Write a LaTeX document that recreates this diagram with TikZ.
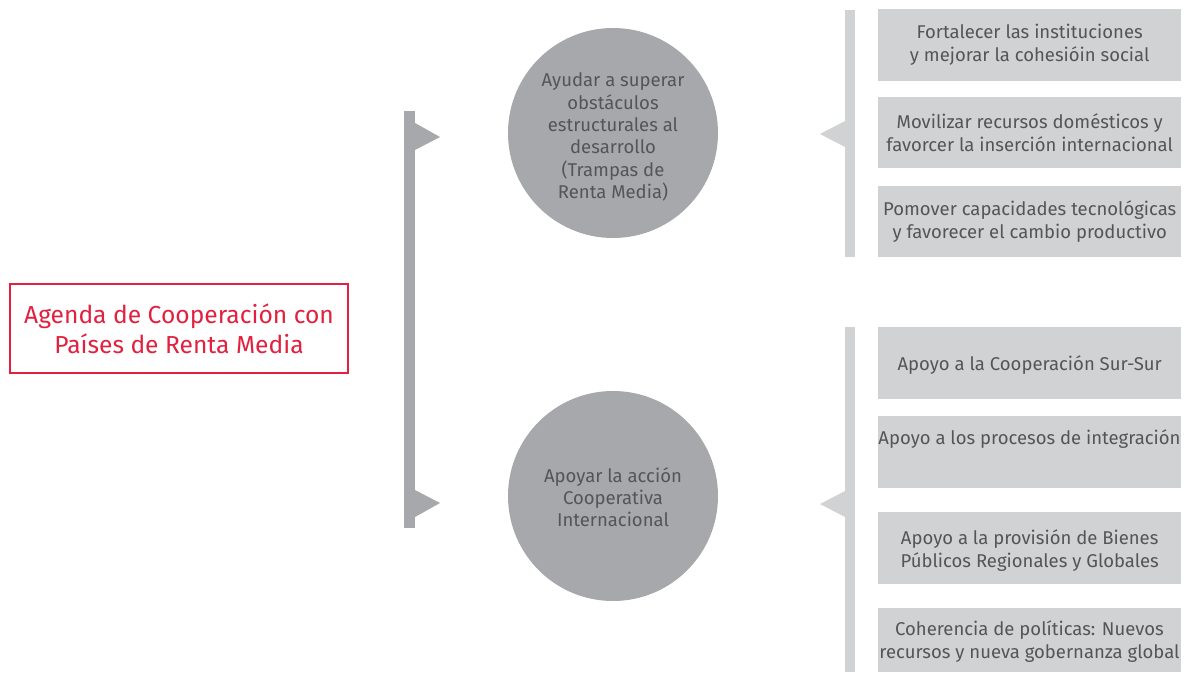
\documentclass[tikz,border=0pt]{standalone}
\usepackage{fontspec}
\setmainfont{Fira Sans}
\definecolor{dgrey}{HTML}{A7A8AB}
\definecolor{lgrey}{HTML}{D1D2D4}
\definecolor{tgrey}{HTML}{545557}
\definecolor{cred}{HTML}{E2203F}
\tikzset{
  rbox/.style={fill=lgrey, draw=none, inner sep=0pt, anchor=north west},
  btext/.style={text=tgrey, align=center, font=\fontsize{18.5}{23}\selectfont, inner sep=0pt},
  circ/.style={circle, fill=dgrey, draw=none, minimum size=210pt, inner sep=0pt},
  ctext/.style={text=tgrey, align=center, font=\fontsize{18.5}{22.3}\selectfont, inner sep=0pt},
}
\begin{document}
\begin{tikzpicture}[x=1pt,y=-1pt]
\useasboundingbox (0,0) rectangle (1194,672);
% red title box
\node[draw=cred, line width=2pt, minimum width=338pt, minimum height=89pt, anchor=north west, inner sep=0pt] (agenda) at (9,283) {};
\node[text=cred, align=center, font=\fontsize{24.6}{30}\selectfont, inner sep=0pt] (agendat) at (agenda.center) {Agenda de Cooperación con\\Países de Renta Media};
% left bracket
\fill[dgrey] (404,111) rectangle (415,528);
\fill[dgrey] (415,123) -- (440,137) -- (415,150) -- cycle;
\fill[dgrey] (415,490) -- (440,503) -- (415,517) -- cycle;
% circles
\node[circ] (c1) at (613,133) {};
\node[ctext] (c1t) at (613,137) {Ayudar a superar\\obstáculos\\estructurales al\\desarrollo\\(Trampas de\\Renta Media)};
\node[circ] (c2) at (613,496) {};
\node[ctext] (c2t) at (613,497) {Apoyar la acción\\Cooperativa\\Internacional};
% right brackets
\fill[lgrey] (845,10) rectangle (855,257);
\fill[lgrey] (845,121) -- (820,134) -- (845,147) -- cycle;
\fill[lgrey] (845,327) rectangle (855,672);
\fill[lgrey] (845,491) -- (820,504) -- (845,517) -- cycle;
% top boxes
\node[rbox, minimum width=303pt, minimum height=72pt] (b1) at (878,9) {};
\node[btext] at (b1.center) {Fortalecer las instituciones\\y mejorar la cohesióin social};
\node[rbox, minimum width=303pt, minimum height=71pt] (b2) at (878,97) {};
\node[btext] at (b2.center) {Movilizar recursos domésticos y\\favorcer la inserción internacional};
\node[rbox, minimum width=303pt, minimum height=71pt] (b3) at (878,186) {};
\node[btext] at (b3.center) {Pomover capacidades tecnológicas\\y favorecer el cambio productivo};
% bottom boxes
\node[rbox, minimum width=303pt, minimum height=72pt] (b4) at (878,327) {};
\node[btext] at ([yshift=-2pt]b4.center) {Apoyo a la Cooperación Sur-Sur};
\node[rbox, minimum width=303pt, minimum height=72pt] (b5) at (878,416) {};
\node[btext] at (1029.5,439) {Apoyo a los procesos de integración};
\node[rbox, minimum width=303pt, minimum height=72pt] (b6) at (878,512) {};
\node[btext] at ([yshift=-2pt]b6.center) {Apoyo a la provisión de Bienes\\Públicos Regionales y Globales};
\node[rbox, minimum width=303pt, minimum height=64pt] (b7) at (878,608) {};
\node[btext] at (1029.5,642) {Coherencia de políticas: Nuevos\\recursos y nueva gobernanza global};
\end{tikzpicture}
\end{document}
